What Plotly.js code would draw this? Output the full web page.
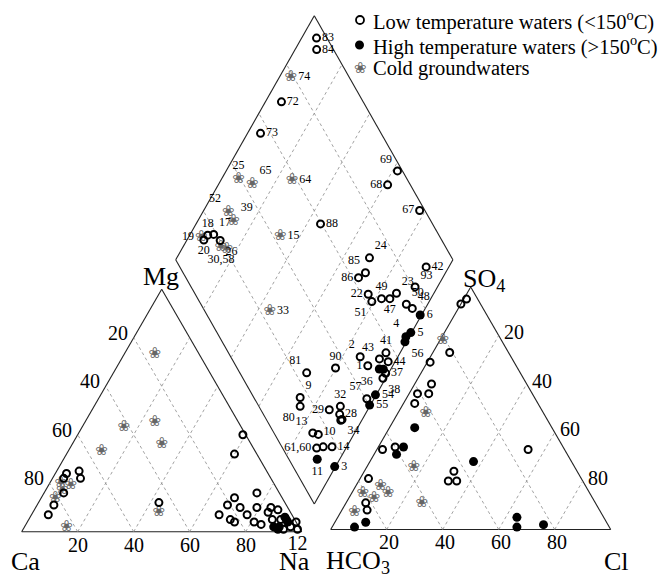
<!DOCTYPE html>
<html><head><meta charset="utf-8">
<script src="https://cdn.plot.ly/plotly-3.0.1.min.js"></script>
<style>html,body{margin:0;padding:0;background:#fff}#chart{width:664px;height:577px}</style>
</head><body><div id="chart"></div>
<script>
// ---------------- DATA (percent, meq) ----------------
// Cation triangle: Ca, Mg, Na+K
const catLowCa = [1, 8, 72, 67, 68, 74, 77, 83, 87, 45, 8, 17, 21, 17, 11, 26, 23, 22, 16, 15, 13, 6, 8, 4, 8, 5, 3, 3, 0, 6, 1];
const catLowMg = [40, 32, 24, 25, 22, 22, 16, 11, 7, 12, 16, 14, 11, 10, 10, 7, 5, 4, 7, 4, 3, 10, 8, 9, 5, 5, 5, 2, 4, 1, 1];
const catLowNa = [59, 60, 4, 8, 10, 4, 7, 6, 6, 43, 76, 69, 68, 73, 79, 67, 72, 74, 77, 81, 84, 84, 84, 87, 87, 90, 92, 95, 96, 93, 98];
const catLowLabel = ['', '', '', '', '', '', '', '', '', '', '', '', '', '', '', '', '', '', '', '', '', '', '', '', '', '', '', '', '', '', '12'];
const catHighCa = [3, 7, 9, 8, 3];
const catHighMg = [6, 2, 2, 1, 4];
const catHighNa = [91, 91, 89, 91, 93];
const catColdCa = [16, 42, 30, 32, 55, 73, 76, 81, 47, 83, 77];
const catColdMg = [73, 43, 45, 36, 33, 19, 20, 14, 8, 2, 17];
const catColdNa = [11, 15, 25, 32, 12, 8, 4, 5, 45, 15, 6];

// Anion triangle: HCO3, SO4, Cl
const anLowHCO3 = [7, 4, 21, 30, 34, 41, 37, 44, 60, 65, 76, 82, 83, 44, 48, 45, 13];
const anLowSO4 = [93, 95, 73, 69, 60, 56, 56, 52, 34, 33, 21, 11, 8, 24, 20, 20, 33];
const anLowCl = [0, 1, 6, 1, 6, 3, 7, 4, 6, 2, 3, 7, 9, 32, 32, 35, 54];
const anHighHCO3 = [49, 57, 61, 35, 86, 91, 31, 33, 23];
const anHighSO4 = [42, 34, 31, 28, 3, 1, 5, 1, 2];
const anHighCl = [9, 9, 8, 37, 11, 8, 64, 66, 75];
const anColdHCO3 = [21, 42, 58, 74, 72, 78, 81, 88, 62];
const anColdSO4 = [78, 48, 26, 18, 15, 13, 15, 7, 11];
const anColdCl = [1, 10, 17, 9, 13, 9, 4, 5, 27];

// Diamond: sample label, Ca+Mg (%), SO4+Cl (%)
const dmLowLabel = ['83','84','72','73','18','17','20','26','88','69','68','67','24','42','85','86','93','22','51','49','47','23','50','48','41','2','43','44','1','37','38','90','81','9','80','57','32','29','28','34','10','13','','61,60','','14'];
const dmLowCaMg = [94.6,92.2,94.2,95.3,93.5,91.5,93.9,87.9,55.1,38.2,38.9,22.1,30.5,8.2,28.9,30.4,8.1,23.5,20.7,17.8,14.8,13.5,7.7,4.7,5.1,13.6,6.2,2.5,9.0,1.0,1.0,20.2,29.6,26.9,25.1,2.6,10.6,13.9,9.2,7.3,7.6,15.1,12.8,10.6,8.5,5.3];
const dmLowSO4Cl = [96.2,93.9,70.5,56.5,16.6,18.9,14.2,20.0,59.6,98.2,91.8,98.1,70.3,88.9,65.8,62.3,80.8,62.4,62.2,66.3,69.3,72.8,74.1,75.4,56.8,46.7,53.2,55.8,47.6,52.5,50.5,35.5,24.1,16.7,14.9,40.5,29.4,24.7,27.5,27.3,26.7,14.0,15.7,12.3,14.9,18.1];
const dmHighLabel = ['6','4','5','56','36','','54','55','11','3'];
const dmHighCaMg = [0.5,1.2,0.3,0.5,4.2,2.7,0.3,0.3,8.1,0.3];
const dmHighSO4Cl = [76.9,67.3,69.9,65.9,51.1,52.5,44.4,40.2,10.2,15.0];
const dmColdLabel = ['74','25','65','64','52','39','19','30,58','','15','33'];
const dmColdCaMg = [95.9,93.9,87.8,74.4,90.8,87.0,95.4,86.3,83.7,67.1,55.6];
const dmColdSO4Cl = [79.0,39.2,43.1,58.3,28.7,28.7,13.8,18.9,20.6,42.6,23.5];

const gridTicks = [20, 40, 60, 80];
const legendNames = ['Low temperature waters (&lt;150<sup>o</sup>C)', 'High temperature waters (&gt;150<sup>o</sup>C)', 'Cold groundwaters'];

// label placement (style)
const dmLowPos = ['middle right','middle right','middle right','middle right','top center','top right','bottom center','bottom right','middle right','top left','middle left','middle left','top right','middle right','top left','middle left','top right','middle left','bottom left','top center','bottom center','top right','top right','top right','top center','top left','top left','middle right','middle left','middle right','bottom right','top center','top left','top right','bottom left','top left','top center','middle left','middle right','bottom right','bottom left','top left','middle right','middle left','middle right','middle right'];
const dmHighPos = ['middle right','top left','middle right','bottom right','bottom left','middle right','middle right','middle right','bottom center','middle right'];
const dmColdPos = ['middle right','top center','top right','middle right','top left','top right','middle left','bottom center','middle right','middle right','middle right'];

// ---------------- GEOMETRY ----------------
const H = Math.sqrt(3) / 2;
const XO = 1.1036, YO = 0.0079;           // anion triangle offset
const DB = [1.045, 0.099], DH = 0.495, DV = 0.872; // diamond bottom & half-vectors

function cat(ca, mg, na) { const s = ca + mg + na; const m = mg / s, n = na / s; return [n + 0.5 * m, H * m]; }
function an(h, so4, cl) { const s = h + so4 + cl; const q = so4 / s, c = cl / s; return [XO + c + 0.5 * q, YO + H * q]; }
function dm(p, q) { p /= 100; q /= 100; return [DB[0] + DH * (q - p), DB[1] + DV * (p + q)]; }

function pts(fn, a, b, c) { const xs = [], ys = []; for (let i = 0; i < a.length; i++) { const r = c ? fn(a[i], b[i], c[i]) : fn(a[i], b[i]); xs.push(r[0]); ys.push(r[1]); } return [xs, ys]; }

const shapes = [];
function seg(p0, p1, grid) {
  shapes.push({type: 'line', xref: 'x', yref: 'y', x0: p0[0], y0: p0[1], x1: p1[0], y1: p1[1], layer: 'below',
    line: grid ? {color: '#8a8a8a', width: 0.8, dash: 'dot'} : {color: '#222', width: 1.1}});
}
// outlines
const L = [[0,0],[1,0],[0.5,H]];
const R = [[XO,YO],[XO+1,YO],[XO+0.5,YO+H]];
const D = [dm(0,0), dm(100,0), dm(100,100), dm(0,100)];
[L, R, D].forEach(poly => { for (let i = 0; i < poly.length; i++) seg(poly[i], poly[(i+1)%poly.length], false); });
// grid
gridTicks.forEach(t => {
  const f = t / 100;
  seg([f,0], [f + 0.5*(1-f), H*(1-f)], true);
  seg([f,0], [f/2, H*f], true);
  seg([XO+f,YO], [XO+f+0.5*(1-f), YO+H*(1-f)], true);
  seg([XO+f,YO], [XO+f/2, YO+H*f], true);
  seg(dm(t,0), dm(t,100), true);
  seg(dm(0,t), dm(100,t), true);
});

// ---------------- TRACES ----------------
const serif = 'Liberation Serif, Times New Roman, serif';
const openM = {symbol: 'circle-open', size: 7, color: '#000', line: {width: 2, color: '#000'}};
const fillM = {symbol: 'circle', size: 9, color: '#000', line: {width: 0}};
const labFont = {family: serif, size: 12, color: '#000'};
const flowerFont = {family: 'DejaVu Sans', size: 15, color: '#666'};
const traces = [];
function add(xy, marker, text, pos, font) {
  traces.push({type: 'scatter', x: xy[0], y: xy[1], mode: text ? 'markers+text' : 'markers', marker: marker,
    text: text, textposition: pos, textfont: font || labFont, cliponaxis: false, hoverinfo: 'skip', showlegend: false});
}
function addFlower(xy) {
  traces.push({type: 'scatter', x: xy[0], y: xy[1], mode: 'text', text: xy[0].map(() => '❀'), textposition: 'middle center',
    textfont: flowerFont, cliponaxis: false, hoverinfo: 'skip', showlegend: false});
}
// cation triangle
addFlower(pts(cat, catColdCa, catColdMg, catColdNa));
add(pts(cat, catLowCa, catLowMg, catLowNa), openM, catLowLabel, 'bottom center', {family: serif, size: 20, color: '#000'});
add(pts(cat, catHighCa, catHighMg, catHighNa), fillM);
// anion triangle
addFlower(pts(an, anColdHCO3, anColdSO4, anColdCl));
add(pts(an, anLowHCO3, anLowSO4, anLowCl), openM);
add(pts(an, anHighHCO3, anHighSO4, anHighCl), fillM);
// diamond
const dc = pts(dm, dmColdCaMg, dmColdSO4Cl);
addFlower(dc);
add(dc, {size: 10, opacity: 0}, dmColdLabel, dmColdPos);
add(pts(dm, dmLowCaMg, dmLowSO4Cl), openM, dmLowLabel, dmLowPos);
add(pts(dm, dmHighCaMg, dmHighSO4Cl), fillM, dmHighLabel, dmHighPos);

// ---------------- ANNOTATIONS ----------------
const ann = [];
function A(x, y, text, size, opts) { ann.push(Object.assign({x: x, y: y, xref: 'x', yref: 'y', text: text, showarrow: false,
  font: {family: serif, size: size, color: '#000'}, xanchor: 'center', yanchor: 'middle'}, opts || {})); }
function P(px, py, text, size, opts) { ann.push(Object.assign({x: px / 664, y: 1 - py / 577, xref: 'paper', yref: 'paper', text: text, showarrow: false,
  font: {family: serif, size: size, color: '#000'}, xanchor: 'center', yanchor: 'middle'}, opts || {})); }
gridTicks.forEach(t => {
  const f = t / 100;
  A(f, 0, String(t), 20, {yshift: -13});
  A(0.5*(1-f), H*(1-f), String(t), 20, {xshift: -16, yshift: 5});
  A(XO + f, YO, String(t), 20, {yshift: -13, xshift: 2});
  A(XO + 1 - 0.5*(1-f), YO + H*(1-f), String(t), 20, {xshift: 15, yshift: 3});
});
P(161, 277, 'Mg', 26);
P(25, 561, 'Ca', 26);
P(294, 561, 'Na', 26);
P(324, 562, 'HCO<sub>3</sub>', 26, {xanchor: 'left'});
P(461, 280, 'SO<sub>4</sub>', 26, {xanchor: 'left'});
P(616, 561, 'Cl', 26);
// legend
const legY = [20, 45, 68];
legendNames.forEach((nm, i) => P(371, legY[i], nm, 20.5, {xanchor: 'left'}));
shapes.push({type: 'circle', xref: 'paper', yref: 'paper', x0: 356/664, x1: 364/664, y0: 1 - 24/577, y1: 1 - 16/577, line: {color: '#000', width: 1.8}});
shapes.push({type: 'circle', xref: 'paper', yref: 'paper', x0: 355/664, x1: 364/664, y0: 1 - 49.5/577, y1: 1 - 40.5/577, fillcolor: '#000', line: {color: '#000', width: 0}});
P(360, 68, '❀', 15, {font: flowerFont});

const layout = {
  width: 664, height: 577, margin: {l: 0, r: 0, t: 0, b: 0}, paper_bgcolor: '#fff', plot_bgcolor: '#fff',
  xaxis: {range: [-0.0775, 2.2939], visible: false, fixedrange: true},
  yaxis: {range: [-0.1618, 1.8989], visible: false, fixedrange: true},
  showlegend: false, shapes: shapes, annotations: ann
};
Plotly.newPlot('chart', traces, layout, {staticPlot: true, displayModeBar: false});
</script></body></html>
